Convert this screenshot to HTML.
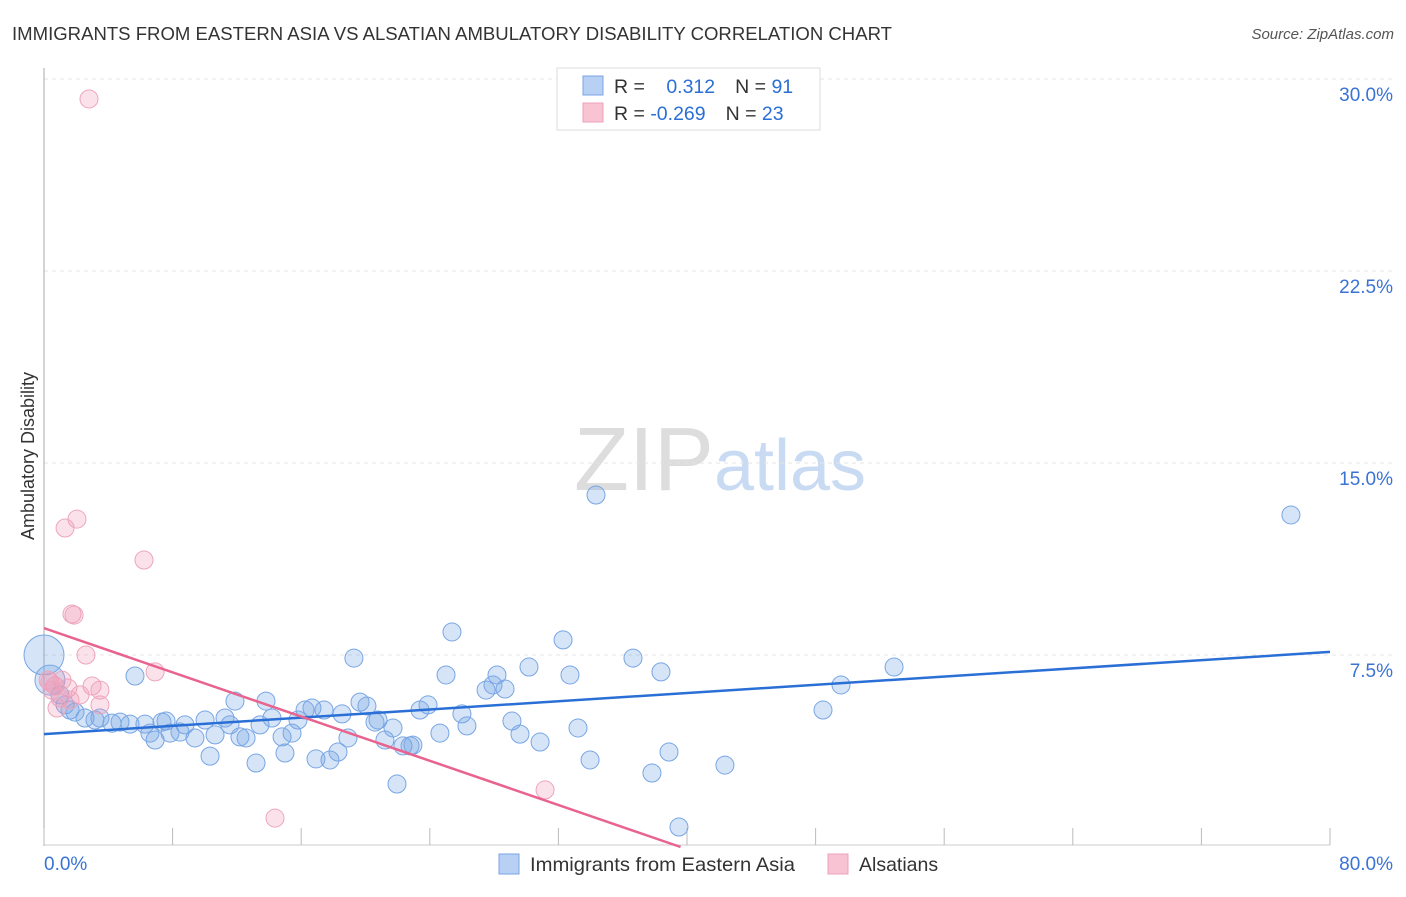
<!DOCTYPE html>
<html><head><meta charset="utf-8"><style>
body{margin:0;background:#fff;font-family:"Liberation Sans",sans-serif;}
svg text{font-family:"Liberation Sans",sans-serif;}
</style></head><body>
<svg id="chart" width="1406" height="892" xmlns="http://www.w3.org/2000/svg">
<text x="12" y="40" font-size="18" fill="#333" textLength="880" lengthAdjust="spacingAndGlyphs">IMMIGRANTS FROM EASTERN ASIA VS ALSATIAN AMBULATORY DISABILITY CORRELATION CHART</text>
<text x="1394" y="39" font-size="15" fill="#555" text-anchor="end" font-style="italic">Source: ZipAtlas.com</text>
<text x="720" y="490" font-size="90" text-anchor="middle" fill="#ddd" font-family="Liberation Serif">ZIP<tspan fill="#c9dbf3" font-family="Liberation Sans" font-size="72">atlas</tspan></text>
<text transform="translate(34,456) rotate(-90)" font-size="18" fill="#333" text-anchor="middle">Ambulatory Disability</text>
<g id="grid"></g><g id="ticks"></g><g id="pts"></g><g id="lines"></g>
<g>
<rect x="557" y="68" width="263" height="62" fill="#fff" stroke="#ddd"/>
<rect x="583" y="76" width="20" height="19" fill="#b7d0f3" stroke="#7aa5e6"/>
<rect x="583" y="103" width="20" height="19" fill="#f8c4d4" stroke="#eda0b8"/>
<text x="614" y="93" font-size="19.5" fill="#333">R = <tspan fill="#2a6fd6" dx="16">0.312</tspan><tspan dx="20" fill="#333">N = </tspan><tspan fill="#2a6fd6">91</tspan></text>
<text x="614" y="120" font-size="19.5" fill="#333">R = <tspan fill="#2a6fd6">-0.269</tspan><tspan dx="20" fill="#333">N = </tspan><tspan fill="#2a6fd6">23</tspan></text>
</g>
<g>
<rect x="499" y="854" width="20" height="20" fill="#b7d0f3" stroke="#7aa5e6"/>
<text x="530" y="871" font-size="19.5" fill="#333" textLength="265" lengthAdjust="spacingAndGlyphs">Immigrants from Eastern Asia</text>
<rect x="828" y="854" width="20" height="20" fill="#f8c4d4" stroke="#eda0b8"/>
<text x="859" y="871" font-size="19.5" fill="#333">Alsatians</text>
</g>
</svg>
<script>
const blueX=[0,0.37,1.0,1.31,1.62,1.93,2.55,3.17,3.48,4.23,4.73,5.35,5.66,6.28,6.59,6.91,7.34,7.59,7.84,8.46,8.77,9.39,10.02,10.33,10.64,11.26,11.57,11.88,12.19,12.57,13.19,13.44,13.81,14.18,14.81,14.99,15.43,15.80,16.24,16.67,16.92,17.42,17.79,18.29,18.54,18.91,19.28,19.66,20.09,20.59,20.78,21.21,21.71,21.96,22.33,22.77,22.95,23.39,23.89,24.63,25.01,25.38,26.0,26.31,27.50,27.93,28.18,28.68,29.11,29.61,30.17,30.86,32.29,32.72,33.22,33.97,34.34,36.64,37.82,38.38,38.88,39.50,42.36,48.46,49.58,52.88,77.57];
const blueY=[7.5,6.52,5.94,5.55,5.35,5.27,5.04,4.96,5.04,4.84,4.88,4.80,6.68,4.80,4.45,4.18,4.88,4.92,4.45,4.49,4.77,4.26,4.96,3.55,4.38,5.04,4.77,5.70,4.30,4.26,3.28,4.77,5.70,5.04,4.30,3.67,4.45,4.96,5.35,5.43,3.44,5.35,3.40,3.71,5.20,4.26,7.38,5.66,5.51,4.88,4.96,4.18,4.65,2.46,3.95,3.95,3.98,5.35,5.55,4.45,6.72,8.40,5.20,4.73,6.13,6.33,6.72,6.17,4.92,4.41,7.03,4.10,8.09,6.72,4.65,3.40,13.75,7.38,2.89,6.84,3.71,0.78,3.20,5.35,6.33,7.03,12.97];
const pinkX=[2.80,2.05,1.31,6.22,1.74,1.87,2.61,6.91,0.37,0.68,1.49,2.99,3.48,1.0,2.24,3.48,0.81,14.37,31.17,0.25,1.12,0.5,1.62];
const pinkY=[29.22,12.81,12.46,11.21,9.10,9.06,7.5,6.84,6.45,6.29,6.21,6.29,6.13,5.82,5.94,5.55,5.43,1.13,2.23,6.52,6.52,6.13,5.74];
const blueTrendX=[0,80], blueTrendY=[4.41,7.62];
const pinkTrendX=[0,39.6], pinkTrendY=[8.55,0];
const yTicks=[7.5,15,22.5,30];
const yTickLabels=["7.5%","15.0%","22.5%","30.0%"];
const xTicks=[0,8,16,24,32,40,48,56,64,72,80];
const NS="http://www.w3.org/2000/svg";
const sx=v=>44+v/80*1286, sy=v=>847-v/7.5*192;
function mk(t,a,p){const e=document.createElementNS(NS,t);for(const k in a)e.setAttribute(k,a[k]);document.getElementById(p).appendChild(e);return e;}
yTicks.forEach((v,i)=>{
 const g=mk('line',{x1:44,x2:1392,y1:sy(v),y2:sy(v),stroke:'#e4e4e4','stroke-dasharray':'4,4'},'grid');
 
 
 const t=mk('text',{x:1393,y:sy(v)+22,'font-size':19,fill:'#3a73d4','text-anchor':'end'},'ticks');
 t.textContent=yTickLabels[i];
 
 
});
const ax=mk('line',{x1:44,x2:44,y1:68,y2:846,stroke:'#aaa'},'grid');


const bx=mk('line',{x1:44,x2:1330,y1:845,y2:845,stroke:'#ccc'},'grid');


xTicks.forEach(v=>{const l=mk('line',{x1:sx(v),x2:sx(v),y1:828,y2:845,stroke:'#bbb'},'grid');
 
 });
const x0=mk('text',{x:44,y:870,'font-size':19,fill:'#3a73d4'},'ticks');x0.textContent='0.0%';


const x1=mk('text',{x:1393,y:870,'font-size':19,fill:'#3a73d4','text-anchor':'end'},'ticks');x1.textContent='80.0%';


blueX.forEach((v,i)=>{const r=i==0?20:(i==1?15:9);
 const c=mk('circle',{cx:sx(v),cy:sy(blueY[i]),r:r,fill:'rgba(120,165,230,0.3)',stroke:'#78a6e4','stroke-width':1},'pts');
 
 });
pinkX.forEach((v,i)=>{
 const c=mk('circle',{cx:sx(v),cy:sy(pinkY[i]),r:9,fill:'rgba(242,150,180,0.28)',stroke:'#eda6bc','stroke-width':1},'pts');
 
 });
const bl=mk('line',{x1:sx(blueTrendX[0]),y1:sy(blueTrendY[0]),x2:sx(blueTrendX[1]),y2:sy(blueTrendY[1]),stroke:'#2a6fd6','stroke-width':2.5},'lines');


const pl=mk('line',{x1:sx(pinkTrendX[0]),y1:sy(pinkTrendY[0]),x2:sx(pinkTrendX[1]),y2:sy(pinkTrendY[1]),stroke:'#e8638e','stroke-width':2.5},'lines');


</script>
</body></html>
